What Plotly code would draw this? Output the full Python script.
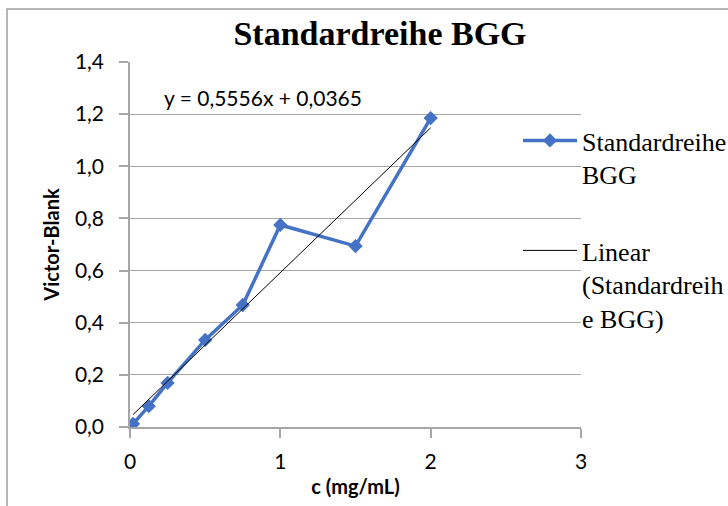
import plotly.graph_objects as go

# Data
conc = [0.02, 0.125, 0.25, 0.5, 0.75, 1.0, 1.5, 2.0]
signal = [0.012, 0.08, 0.169, 0.334, 0.468, 0.775, 0.694, 1.185]
slope = 0.5556
intercept = 0.0365
x_ticks = [0, 1, 2, 3]
y_ticks = [0.0, 0.2, 0.4, 0.6, 0.8, 1.0, 1.2, 1.4]

W, H = 728, 506
L, R, T, B = 130, 581, 62, 427

# container (whole figure) fractions
def cx(x):
    return x / W

def cy(y):
    return 1 - y / H

# paper (plot area) fractions
def px(x):
    return (x - L) / (R - L)

def py(y):
    return (B - y) / (B - T)

trend_x = [min(conc), max(conc)]
trend_y = [slope * v + intercept for v in trend_x]

blue = "#4472C4"
grid = "#A6A6A6"
sans = "Lato"
serif = "Liberation Serif"

fig = go.Figure()
fig.add_trace(go.Scatter(
    x=conc, y=signal, mode="lines+markers",
    name="Standardreihe<br>BGG",
    line=dict(color=blue, width=3.5),
    marker=dict(symbol="diamond", size=11, color=blue),
    legend="legend",
))
fig.add_trace(go.Scatter(
    x=trend_x, y=trend_y, mode="lines",
    name="Linear<br>(Standardreih<br>e BGG)",
    line=dict(color="black", width=1),
    legend="legend2",
))

legend_common = dict(
    font=dict(family=serif, size=26, color="black"),
    bgcolor="rgba(0,0,0,0)", borderwidth=0, itemwidth=54,
    xanchor="left", yanchor="top", valign="top",
    xref="container", yref="container",
    itemclick=False, itemdoubleclick=False,
)

fig.update_layout(
    width=W, height=H,
    margin=dict(l=L, r=W - R, t=T, b=H - B, autoexpand=False),
    paper_bgcolor="white", plot_bgcolor="white",
    separators=",.",
    showlegend=True,
    legend=dict(x=cx(518), y=cy(117), **legend_common),
    legend2=dict(x=cx(518), y=cy(227), **legend_common),
    title=dict(
        text="<b>Standardreihe BGG</b>",
        font=dict(family=serif, size=34, color="black"),
        x=cx(380), xanchor="center", xref="container",
        y=cy(33), yanchor="middle", yref="container",
    ),
    xaxis=dict(
        range=[0, 3], tickvals=x_ticks, tickformat="d",
        showgrid=False, zeroline=False,
        showline=True, linecolor=grid, linewidth=1.5,
        ticks="outside", ticklen=9, tickcolor=grid, tickwidth=1.5,
        tickfont=dict(family=sans, size=21, color="black"),
        ticklabelstandoff=6,
        title=dict(text="<b>c (mg/mL)</b>", font=dict(family=sans, size=20, color="black"), standoff=8),
    ),
    yaxis=dict(
        range=[0, 1.4], tickvals=y_ticks, tickformat=".1f",
        showgrid=True, gridcolor=grid, gridwidth=1.3, zeroline=False,
        showline=True, linecolor=grid, linewidth=1.5,
        ticks="outside", ticklen=9, tickcolor=grid, tickwidth=1.5,
        tickfont=dict(family=sans, size=21, color="black"),
        ticklabelstandoff=11,
        title=dict(text="<b>Victor-Blank</b>", font=dict(family=sans, size=20, color="black"), standoff=10),
    ),
    shapes=[dict(
        type="rect", xref="paper", yref="paper",
        x0=px(7), x1=px(W + 20), y0=py(H + 20), y1=py(9),
        line=dict(color="#A0A0A0", width=1.5), fillcolor="rgba(0,0,0,0)", layer="below",
    )],
    annotations=[dict(
        text="y = 0,5556x + 0,0365", xref="paper", yref="paper",
        x=px(162), y=py(97), xanchor="left", yanchor="middle",
        showarrow=False, font=dict(family=sans, size=21, color="black"),
    )],
)

fig.write_html("out.html")
